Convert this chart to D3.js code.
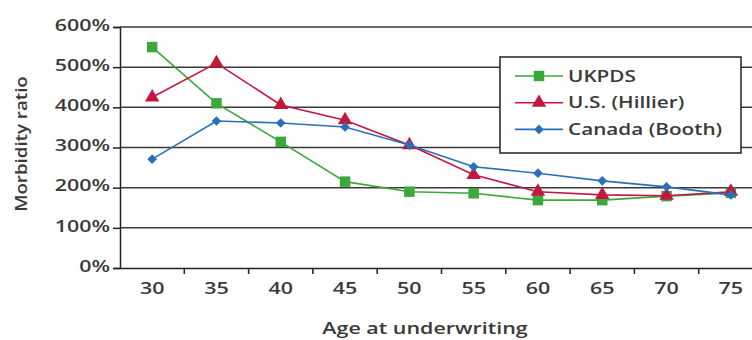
<!DOCTYPE html>
<html lang="en">
<head>
<meta charset="UTF-8" />
<title>Morbidity ratio by age at underwriting</title>
<script src="https://d3js.org/d3.v7.min.js"></script>
<style>
  body { margin: 0; background: #fff; }
  text { font-family: "Open Sans", "DejaVu Sans", sans-serif; fill: #3a3a3a; font-weight: 600; }
</style>
</head>
<body>
<div id="chart"></div>
<script>
// data
const ages = [30, 35, 40, 45, 50, 55, 60, 65, 70, 75]
const ukpds = [550, 410, 314, 215, 190, 186, 169, 169, 179, 187]
const hillier = [425, 510, 406, 368, 306, 232, 190, 182, 180, 190]
const booth = [271, 366, 361, 351, 306, 252, 236, 217, 202, 182]
const yTicks = [0, 100, 200, 300, 400, 500, 600]

const series = [
    { name: "UKPDS", values: ukpds, color: "#3aa83a", shape: "square" },
    { name: "U.S. (Hillier)", values: hillier, color: "#c4173f", shape: "triangle" },
    { name: "Canada (Booth)", values: booth, color: "#2a6fba", shape: "diamond" }
]

const width = 752
const height = 340
const margin = { top: 27, right: -11, bottom: 72, left: 120 }
const sx = 1.3 // the source picture is stretched sideways

const svg = d3.select("#chart").append("svg")
    .attr("width", width)
    .attr("height", height)

const x = d3.scaleBand()
    .domain(ages)
    .range([margin.left, width - margin.right])

const y = d3.scaleLinear()
    .domain([0, 600])
    .range([height - margin.bottom, margin.top])

// gridlines
svg.append("g")
    .selectAll("line")
    .data(yTicks.slice(1))
    .join("line")
    .attr("x1", margin.left)
    .attr("x2", width)
    .attr("y1", d => y(d))
    .attr("y2", d => y(d))
    .attr("stroke", "#3a3a3a")
    .attr("stroke-width", 1.5)

// y axis
svg.append("g")
    .attr("transform", `translate(${margin.left},0)`)
    .call(d3.axisLeft(y).tickValues(yTicks).tickFormat(d => d + "%").tickSize(7))
    .call(g => g.selectAll(".domain, line").attr("stroke", "#222").attr("stroke-width", 1.5))
    .call(g => g.selectAll("text")
        .attr("font-size", 16.5)
        .attr("fill", "#3a3a3a")
        .attr("x", -10 / sx)
        .attr("dy", "0.2em")
        .attr("transform", `scale(${sx},1)`))

// x axis
svg.append("g")
    .attr("transform", `translate(0,${y(0)})`)
    .call(d3.axisBottom(x).tickSize(0))
    .call(g => g.select(".domain").attr("stroke", "#222").attr("stroke-width", 1.5))
    .call(g => g.selectAll("text")
        .attr("font-size", 16.5)
        .attr("fill", "#3a3a3a")
        .attr("y", 26)
        .attr("dy", 0)
        .attr("transform", `scale(${sx},1)`))
    .call(g => g.append("g")
        .selectAll("line")
        .data(ages.slice(1))
        .join("line")
        .attr("x1", d => x(d))
        .attr("x2", d => x(d))
        .attr("y1", 0)
        .attr("y2", 6)
        .attr("stroke", "#222")
        .attr("stroke-width", 1.5))

// axis titles
svg.append("text")
    .attr("transform", `translate(425,334) scale(${sx},1)`)
    .attr("text-anchor", "middle")
    .attr("font-size", 16.5)
    .text("Age at underwriting")

svg.append("text")
    .attr("transform", "translate(27,144) rotate(-90) scale(1.1,1)")
    .attr("text-anchor", "middle")
    .attr("font-size", 17)
    .text("Morbidity ratio")

const symbols = {
    square: d3.symbol().type(d3.symbolSquare).size(110),
    triangle: d3.symbol().type(d3.symbolTriangle).size(90),
    diamond: d3.symbol().type(d3.symbolDiamond2).size(60)
}

const line = d3.line()
    .x((d, i) => x(ages[i]) + x.bandwidth() / 2)
    .y(d => y(d))

series.forEach(s => {
    svg.append("path")
        .datum(s.values)
        .attr("fill", "none")
        .attr("stroke", s.color)
        .attr("stroke-width", 1.6)
        .attr("d", line)

    svg.append("g")
        .selectAll("path")
        .data(s.values)
        .join("path")
        .attr("transform", (d, i) => `translate(${x(ages[i]) + x.bandwidth() / 2},${y(d)})`)
        .attr("fill", s.color)
        .attr("d", symbols[s.shape]())
})

// legend
const legend = svg.append("g")
    .attr("transform", "translate(500,57)")

legend.append("rect")
    .attr("width", 241)
    .attr("height", 96)
    .attr("fill", "#fff")
    .attr("stroke", "#222")
    .attr("stroke-width", 1.5)

series.forEach((s, i) => {
    const row = legend.append("g")
        .attr("transform", `translate(0,${19 + i * 26.7})`)
    row.append("line")
        .attr("x1", 15)
        .attr("x2", 63)
        .attr("stroke", s.color)
        .attr("stroke-width", 1.6)
    row.append("path")
        .attr("transform", "translate(39,0)")
        .attr("fill", s.color)
        .attr("d", symbols[s.shape]())
    row.append("text")
        .attr("transform", `translate(68,0) scale(1.22,1)`)
        .attr("dy", "0.33em")
        .attr("font-size", 17)
        .text(s.name)
})
</script>
</body>
</html>
